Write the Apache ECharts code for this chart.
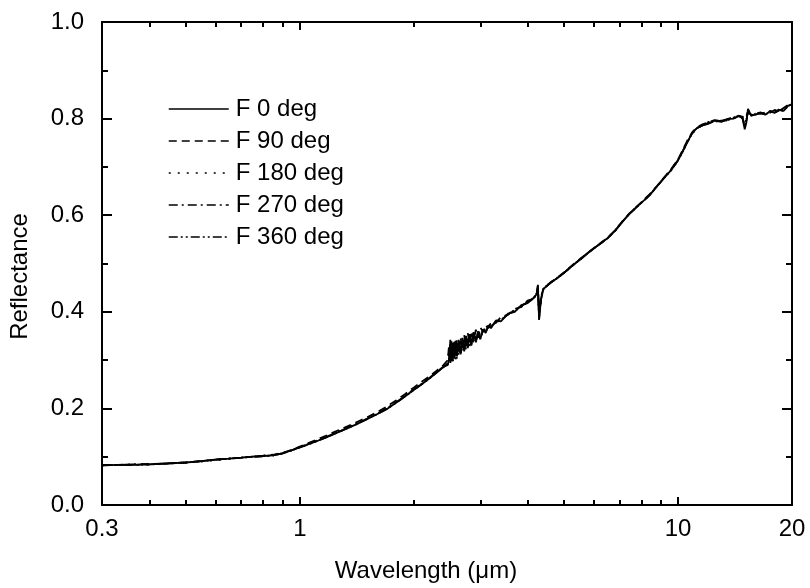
<!DOCTYPE html>
<html>
<head>
<meta charset="utf-8">
<script src="https://cdn.jsdelivr.net/npm/echarts@6/dist/echarts.min.js"></script>
<style>html,body{margin:0;padding:0;background:#fff}#chart{width:810px;height:588px}</style>
</head>
<body>
<div id="chart"></div>
<script>
// Wavelength (µm), shared by all series
const wavelength = [
  0.30,0.33,0.36,0.40,0.45,0.50,0.55,0.60,0.65,0.70,
  0.75,0.80,0.85,0.90,0.95,1.00,1.10,1.20,1.30,1.40,
  1.50,1.60,1.70,1.80,1.90,2.00,2.10,2.20,2.30,2.40,
  2.46,2.48,2.50,2.52,2.54,2.56,2.58,2.60,2.63,2.66,
  2.69,2.72,2.75,2.78,2.81,2.84,2.88,2.92,2.96,3.00,
  3.05,3.10,3.15,3.20,3.30,3.40,3.55,3.70,3.85,4.00,
  4.10,4.16,4.20,4.23,4.26,4.29,4.34,4.40,4.47,4.60,
  4.80,5.00,5.30,5.60,5.90,6.20,6.50,6.80,7.10,7.40,
  7.70,8.00,8.40,8.80,9.20,9.60,10.0,10.3,10.6,10.9,
  11.2,11.6,12.0,12.5,13.0,13.5,14.0,14.5,14.8,15.0,
  15.15,15.3,15.6,16.0,16.5,17.0,17.5,18.0,18.5,19.0,
  19.5,20.0
];
const seriesNames = ['F 0 deg','F 90 deg','F 180 deg','F 270 deg','F 360 deg'];
const refl0 = [
  0.082,0.083,0.083,0.084,0.086,0.088,0.091,0.094,0.096,0.098,
  0.100,0.101,0.103,0.107,0.113,0.119,0.131,0.143,0.155,0.166,
  0.177,0.188,0.199,0.212,0.225,0.238,0.250,0.262,0.274,0.286,
  0.290,0.300,0.342,0.298,0.336,0.303,0.340,0.308,0.342,0.312,
  0.346,0.318,0.350,0.325,0.354,0.330,0.358,0.337,0.360,0.343,
  0.364,0.356,0.372,0.366,0.382,0.380,0.396,0.400,0.414,0.418,
  0.425,0.429,0.432,0.437,0.455,0.383,0.425,0.446,0.452,0.460,
  0.470,0.481,0.498,0.513,0.528,0.540,0.552,0.567,0.585,0.601,
  0.614,0.626,0.641,0.660,0.678,0.694,0.714,0.733,0.753,0.770,
  0.780,0.786,0.789,0.796,0.793,0.799,0.800,0.806,0.800,0.778,
  0.792,0.820,0.806,0.808,0.812,0.808,0.815,0.812,0.818,0.816,
  0.826,0.830
];
const refl90 = [
  0.083,0.083,0.084,0.085,0.086,0.088,0.091,0.094,0.096,0.098,
  0.100,0.102,0.104,0.108,0.114,0.121,0.134,0.147,0.159,0.170,
  0.181,0.192,0.204,0.217,0.230,0.243,0.255,0.266,0.278,0.290,
  0.300,0.330,0.296,0.340,0.303,0.338,0.309,0.343,0.315,0.347,
  0.322,0.352,0.327,0.356,0.334,0.360,0.340,0.363,0.346,0.368,
  0.358,0.372,0.366,0.378,0.377,0.389,0.394,0.406,0.410,0.423,
  0.426,0.430,0.434,0.439,0.446,0.392,0.430,0.447,0.453,0.461,
  0.471,0.482,0.499,0.514,0.527,0.541,0.553,0.568,0.586,0.602,
  0.615,0.627,0.643,0.661,0.679,0.696,0.716,0.736,0.756,0.772,
  0.782,0.788,0.792,0.797,0.795,0.799,0.803,0.805,0.804,0.800,
  0.803,0.812,0.808,0.811,0.810,0.813,0.812,0.818,0.815,0.822,
  0.828,0.832
];
const refl180 = [
  0.082,0.083,0.083,0.084,0.086,0.088,0.090,0.093,0.096,0.098,
  0.100,0.102,0.103,0.107,0.113,0.120,0.132,0.144,0.155,0.166,
  0.178,0.189,0.200,0.213,0.226,0.239,0.251,0.263,0.275,0.287,
  0.293,0.320,0.294,0.333,0.298,0.327,0.301,0.336,0.307,0.339,
  0.315,0.344,0.322,0.349,0.327,0.353,0.334,0.357,0.342,0.361,
  0.359,0.367,0.366,0.375,0.377,0.387,0.393,0.405,0.410,0.422,
  0.425,0.429,0.433,0.438,0.450,0.388,0.427,0.446,0.452,0.460,
  0.470,0.481,0.498,0.513,0.528,0.540,0.552,0.567,0.585,0.601,
  0.614,0.626,0.641,0.660,0.678,0.694,0.714,0.733,0.752,0.769,
  0.779,0.787,0.793,0.793,0.797,0.796,0.802,0.807,0.802,0.790,
  0.800,0.812,0.804,0.810,0.811,0.810,0.817,0.811,0.820,0.818,
  0.826,0.829
];
const refl270 = [
  0.083,0.083,0.084,0.084,0.086,0.088,0.091,0.094,0.096,0.098,
  0.100,0.101,0.103,0.107,0.113,0.120,0.132,0.144,0.156,0.167,
  0.178,0.189,0.200,0.213,0.226,0.239,0.251,0.263,0.275,0.287,
  0.292,0.298,0.336,0.296,0.331,0.305,0.335,0.303,0.339,0.314,
  0.342,0.322,0.348,0.328,0.352,0.333,0.356,0.339,0.359,0.345,
  0.363,0.359,0.371,0.369,0.380,0.383,0.395,0.402,0.413,0.419,
  0.425,0.430,0.433,0.438,0.456,0.386,0.426,0.446,0.452,0.460,
  0.471,0.481,0.498,0.513,0.528,0.540,0.552,0.567,0.585,0.601,
  0.614,0.626,0.642,0.660,0.678,0.695,0.715,0.734,0.753,0.770,
  0.781,0.786,0.790,0.795,0.794,0.798,0.800,0.806,0.801,0.785,
  0.797,0.815,0.807,0.809,0.813,0.809,0.816,0.813,0.817,0.820,
  0.827,0.831
];
const refl360 = [
  0.082,0.083,0.083,0.084,0.086,0.088,0.091,0.094,0.096,0.098,
  0.100,0.101,0.103,0.107,0.113,0.119,0.131,0.143,0.155,0.166,
  0.177,0.188,0.199,0.212,0.225,0.238,0.250,0.262,0.274,0.286,
  0.291,0.302,0.330,0.300,0.327,0.302,0.333,0.307,0.336,0.312,
  0.339,0.321,0.345,0.327,0.350,0.332,0.354,0.338,0.357,0.344,
  0.362,0.358,0.370,0.368,0.379,0.382,0.395,0.401,0.412,0.420,
  0.425,0.429,0.432,0.437,0.450,0.390,0.428,0.447,0.452,0.460,
  0.470,0.481,0.498,0.513,0.528,0.540,0.552,0.567,0.585,0.601,
  0.614,0.626,0.641,0.660,0.678,0.694,0.714,0.733,0.753,0.770,
  0.780,0.786,0.791,0.794,0.796,0.797,0.801,0.806,0.801,0.782,
  0.795,0.818,0.806,0.808,0.812,0.808,0.815,0.812,0.818,0.816,
  0.826,0.830
];
const xLabelValues = [0.3, 1, 10, 20];
const xMajorTicks = [1, 10];
const xMinorTicks = [0.4,0.5,0.6,0.7,0.8,0.9,2,3,4,5,6,7,8,9];

const reflSets = [refl0, refl90, refl180, refl270, refl360];
const dashTypes = ['solid', [8,5], [2,7], [9,4,2,4], [9,3,2,3,2,3]];
const FONT = "'Liberation Sans', Arial, sans-serif";

const chart = echarts.init(document.getElementById('chart'), null, {renderer: 'canvas'});

const axisLineStyle = {show: true, lineStyle: {color: '#000', width: 2}};
function xAxisDef(position, ticks, len, showLine, showLabels) {
  return {
    type: 'log', logBase: 10, min: 0.3, max: 20, position: position,
    axisLine: showLine ? axisLineStyle : {show: false},
    axisTick: {show: true, inside: true, length: len, customValues: ticks, lineStyle: {color: '#000', width: 2}},
    axisLabel: showLabels ? {show: true, customValues: xLabelValues, color: '#000', fontSize: 24, fontFamily: FONT, margin: 12,
      formatter: v => String(+v.toPrecision(3))} : {show: false},
    splitLine: {show: false}, minorTick: {show: false}, minorSplitLine: {show: false}
  };
}

const xAxes = [
  Object.assign(xAxisDef('bottom', xMajorTicks, 8, true, true), {
    name: 'Wavelength (\u03bcm)', nameLocation: 'middle', nameGap: 54,
    nameTextStyle: {color: '#000', fontSize: 24, fontFamily: FONT, padding: [0, 42, 0, 0]}
  }),
  xAxisDef('bottom', xMinorTicks, 5, false, false),
  xAxisDef('top', xMajorTicks, 8, true, false),
  xAxisDef('top', xMinorTicks, 5, false, false)
];

function yAxisDef(position, showLabels) {
  return {
    type: 'value', min: 0, max: 1, interval: 0.2, position: position,
    axisLine: axisLineStyle,
    axisTick: {show: true, inside: true, length: 10, lineStyle: {color: '#000', width: 2}},
    minorTick: {show: true, splitNumber: 2, length: 6, lineStyle: {color: '#000', width: 2}},
    axisLabel: showLabels ? {show: true, color: '#000', fontSize: 24, fontFamily: FONT, margin: 18,
      formatter: v => v.toFixed(1)} : {show: false},
    splitLine: {show: false}
  };
}
const yAxes = [
  Object.assign(yAxisDef('left', true), {
    name: 'Reflectance', nameLocation: 'middle', nameGap: 70, nameRotate: 90,
    nameTextStyle: {color: '#000', fontSize: 24, fontFamily: FONT, padding: [0, 26, 0, 0]}
  }),
  yAxisDef('right', false)
];

const series = seriesNames.map((name, k) => ({
  name: name,
  type: 'line',
  xAxisIndex: 0, yAxisIndex: 0,
  symbol: 'none', showSymbol: false,
  data: wavelength.map((w, i) => [w, reflSets[k][i]]),
  lineStyle: {color: '#000', width: 1.8, type: dashTypes[k]},
  itemStyle: {color: '#000'},
  z: 5 - k
}));

chart.setOption({
  animation: false,
  backgroundColor: '#fff',
  textStyle: {fontFamily: FONT},
  grid: {left: 101, right: 18, top: 22, bottom: 75, containLabel: false},
  legend: {
    data: seriesNames, orient: 'vertical', left: 163, top: 92,
    itemWidth: 60, itemHeight: 14, itemGap: 8,
    textStyle: {color: '#000', fontSize: 24, fontFamily: FONT, lineHeight: 24, padding: [0, 0, 0, 2]},
    itemStyle: {opacity: 0, borderWidth: 0},
    lineStyle: {width: 1.5, opacity: 1}
  },
  xAxis: xAxes,
  yAxis: yAxes,
  series: series
});
</script>
</body>
</html>
